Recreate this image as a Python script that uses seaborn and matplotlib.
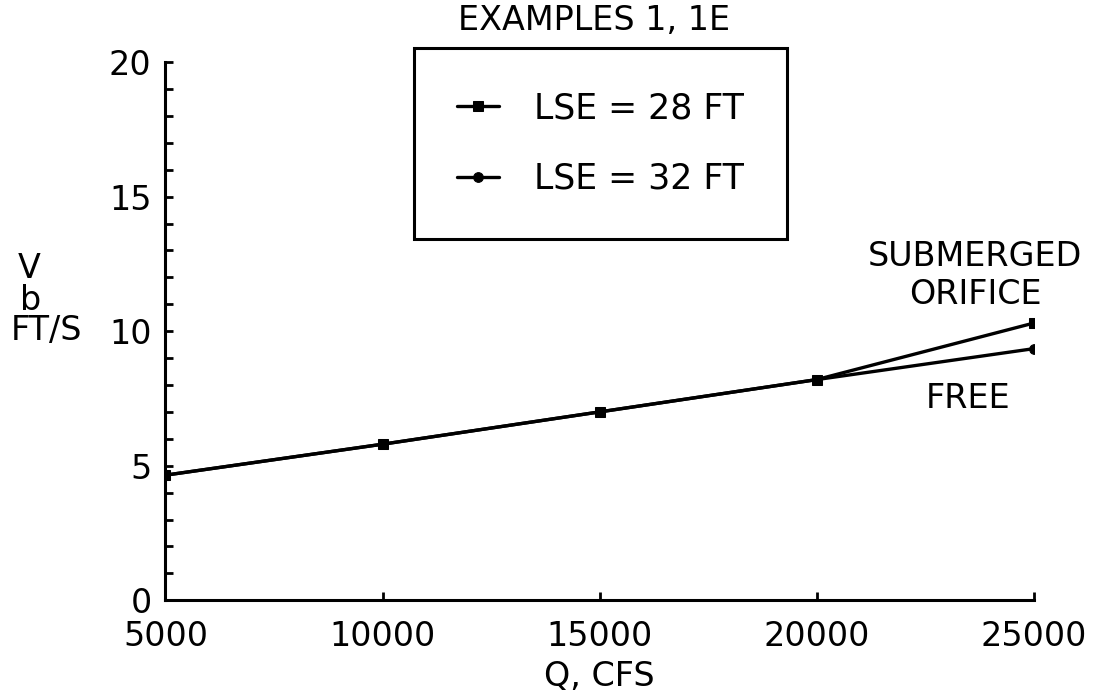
import matplotlib
matplotlib.use("Agg")
import matplotlib.pyplot as plt
import seaborn as sns
from matplotlib.ticker import MultipleLocator

# discharge Q (cfs) and velocity Vb (ft/s)
q_cfs = [5000, 10000, 15000, 20000, 25000]
vb_lse28 = [4.65, 5.8, 7.0, 8.2, 10.3]   # submerged orifice at the end
vb_lse32 = [4.65, 5.8, 7.0, 8.2, 9.35]   # free flow at the end

x_ticks = [5000, 10000, 15000, 20000, 25000]
y_ticks = [0, 5, 10, 15, 20]

sns.set_style("ticks")
plt.rcParams["font.family"] = ["DejaVu Sans"]
plt.rcParams["text.color"] = "black"
plt.rcParams["axes.labelcolor"] = "black"

fig = plt.figure(figsize=(10.96, 6.98), dpi=100)
ax = fig.add_axes([0.151, 0.14, 0.792, 0.771])

sns.lineplot(x=q_cfs, y=vb_lse28, ax=ax, color="black", linewidth=2.4,
             marker="s", markersize=7, markeredgecolor="black",
             label="LSE = 28 FT")
sns.lineplot(x=q_cfs, y=vb_lse32, ax=ax, color="black", linewidth=2.4,
             marker="o", markersize=7, markeredgecolor="black",
             label="LSE = 32 FT")

ax.set_xlim(5000, 25000)
ax.set_ylim(0, 20)
ax.set_xticks(x_ticks)
ax.set_yticks(y_ticks)
ax.yaxis.set_minor_locator(MultipleLocator(1))
ax.tick_params(axis="both", which="both", direction="in", length=6,
               width=2, labelsize=24, colors="black")
ax.tick_params(axis="x", pad=14)
ax.tick_params(axis="y", pad=10)
for s in ["top", "right"]:
    ax.spines[s].set_visible(False)
for s in ["left", "bottom"]:
    ax.spines[s].set_linewidth(2.2)
    ax.spines[s].set_color("black")

ax.set_xlabel("Q, CFS", fontsize=24, labelpad=5)
ax.set_ylabel("")

leg = ax.legend(loc="upper left", bbox_to_anchor=(0.286, 1.026),
                borderaxespad=0, prop={"size": 25}, frameon=True,
                fancybox=False, framealpha=1, edgecolor="black",
                handlelength=1.2, handletextpad=1.0, labelspacing=1.05,
                borderpad=1.25)
leg.get_frame().set_linewidth(2.2)
leg.set_clip_on(False)
for t in leg.get_texts():
    t.set_color("black")

fig.text(0.542, 0.970, "EXAMPLES 1, 1E", fontsize=24, ha="center", va="center")

ax.text(0.933, 0.638, "SUBMERGED", transform=ax.transAxes, fontsize=24,
        ha="center", va="center", clip_on=False)
ax.text(0.933, 0.568, "ORIFICE", transform=ax.transAxes, fontsize=24,
        ha="center", va="center", clip_on=False)
ax.text(0.925, 0.375, "FREE", transform=ax.transAxes, fontsize=24,
        ha="center", va="center", clip_on=False)

fig.text(0.027, 0.616, "V", fontsize=24, ha="center", va="center")
fig.text(0.028, 0.570, "b", fontsize=24, ha="center", va="center")
fig.text(0.042, 0.527, "FT/S", fontsize=24, ha="center", va="center")

fig.savefig("out.png", dpi=100)
